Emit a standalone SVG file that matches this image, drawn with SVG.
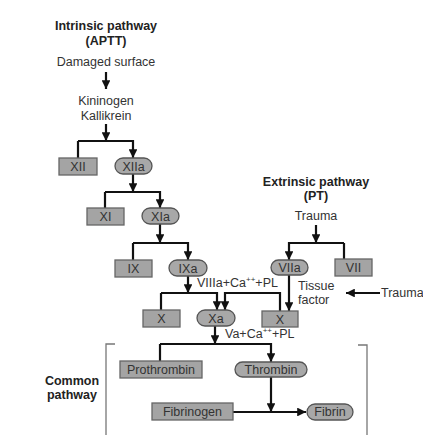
<svg xmlns="http://www.w3.org/2000/svg" width="423" height="435" viewBox="0 0 423 435">
<defs>
<marker id="ah" viewBox="0 0 10 10" refX="10" refY="5" markerWidth="4" markerHeight="4" orient="auto" markerUnits="strokeWidth">
<path d="M0,0 L10,5 L0,10 z" fill="#111"/>
</marker>
<style>
.t{font-family:"Liberation Sans",Arial,sans-serif;font-size:12.5px;fill:#333}
.b{font-weight:bold;fill:#222}
.m{text-anchor:middle}
.box{fill:#a4a4a4;stroke:#666;stroke-width:1.3}
.pill{fill:#a8a8a8;stroke:#555;stroke-width:1.3}
.ln{fill:none;stroke:#111;stroke-width:2.2}
.ar{marker-end:url(#ah)}
.br{fill:none;stroke:#777;stroke-width:1.3}
.sup{font-size:8px}
</style>
</defs>
<rect width="423" height="435" fill="#fff"/>

<g id="labels">
<text class="t b m" x="106" y="30">Intrinsic pathway</text>
<text class="t b m" x="106" y="45">(APTT)</text>
<text class="t m" x="106" y="66">Damaged surface</text>
<text class="t m" x="106" y="105">Kininogen</text>
<text class="t m" x="106" y="120">Kallikrein</text>
<text class="t b m" x="316" y="186">Extrinsic pathway</text>
<text class="t b m" x="316" y="200">(PT)</text>
<text class="t m" x="316" y="220">Trauma</text>
<text class="t" x="298" y="290">Tissue</text>
<text class="t" x="298" y="304">factor</text>
<text class="t" x="381" y="297">Trauma</text>
<text class="t" x="197" y="287">VIIIa+Ca<tspan class="sup" dy="-5">++</tspan><tspan dy="5">+PL</tspan></text>
<text class="t" x="225" y="338">Va+Ca<tspan class="sup" dy="-5">++</tspan><tspan dy="5">+PL</tspan></text>
<text class="t b m" x="72" y="385">Common</text>
<text class="t b m" x="72" y="399">pathway</text>
</g>

<g id="connectors">
<path class="ln ar" d="M106,72 V89"/>
<path class="ln ar" d="M106,124 V141"/>
<path class="ln" d="M78,158 V141"/>
<path class="ln ar" d="M78,141 H133 V158"/>
<path class="ln ar" d="M133,173 V192"/>
<path class="ln" d="M105,208 V192"/>
<path class="ln ar" d="M105,192 H160 V208"/>
<path class="ln ar" d="M160,224 V243"/>
<path class="ln" d="M133,260 V243"/>
<path class="ln ar" d="M133,243 H188 V260"/>
<path class="ln ar" d="M188,276 V293"/>
<path class="ln" d="M161,310 V293"/>
<path class="ln ar" d="M161,293 H217 V310"/>
<path class="ln ar" d="M316,225 V243"/>
<path class="ln" d="M344,259 V243"/>
<path class="ln ar" d="M344,243 H289 V260"/>
<path class="ln ar" d="M289,275 V311"/>
<path class="ln ar" d="M280,311 V293 H225 V310"/>
<path class="ln ar" d="M380,293 H346"/>
<path class="ln ar" d="M215,326 V344"/>
<path class="ln" d="M160,361 V344"/>
<path class="ln ar" d="M160,344 H271 V362"/>
<path class="ln ar" d="M271,377 V412"/>
<path class="ln ar" d="M233,412 H306"/>
<path class="br" d="M115,344 H106 V435"/>
<path class="br" d="M358,345 H367 V435"/>
</g>

<g id="XII"><rect class="box" x="59" y="158" width="38" height="17"/><text class="t m" x="78" y="171">XII</text></g>
<g id="XIIa"><rect class="pill" x="115" y="158" width="37" height="16" rx="8"/><text class="t m" x="133.5" y="171">XIIa</text></g>
<g id="XI"><rect class="box" x="87" y="208" width="37" height="17"/><text class="t m" x="105.5" y="221">XI</text></g>
<g id="XIa"><rect class="pill" x="142" y="208" width="37" height="16" rx="8"/><text class="t m" x="160.5" y="221">XIa</text></g>
<g id="IX"><rect class="box" x="115" y="260" width="37" height="17"/><text class="t m" x="133.5" y="273">IX</text></g>
<g id="IXa"><rect class="pill" x="169" y="260" width="38" height="16" rx="8"/><text class="t m" x="188" y="273">IXa</text></g>
<g id="VIIa"><rect class="pill" x="271" y="260" width="37" height="15" rx="7.5"/><text class="t m" x="289.5" y="272">VIIa</text></g>
<g id="VII"><rect class="box" x="335" y="259" width="37" height="17"/><text class="t m" x="353.5" y="272">VII</text></g>
<g id="X1"><rect class="box" x="143" y="310" width="37" height="17"/><text class="t m" x="161.5" y="323">X</text></g>
<g id="Xa"><rect class="pill" x="197" y="310" width="38" height="16" rx="8"/><text class="t m" x="216" y="323">Xa</text></g>
<g id="X2"><rect class="box" x="262" y="311" width="36" height="16"/><text class="t m" x="280" y="324">X</text></g>
<g id="Prothrombin"><rect class="box" x="120" y="361" width="82" height="17"/><text class="t m" x="161" y="374">Prothrombin</text></g>
<g id="Thrombin"><rect class="pill" x="235" y="362" width="72" height="15" rx="7.5"/><text class="t m" x="271" y="374">Thrombin</text></g>
<g id="Fibrinogen"><rect class="box" x="152" y="403" width="81" height="17"/><text class="t m" x="192.5" y="416">Fibrinogen</text></g>
<g id="Fibrin"><rect class="pill" x="307" y="404" width="46" height="16" rx="8"/><text class="t m" x="330" y="416">Fibrin</text></g>
</svg>
